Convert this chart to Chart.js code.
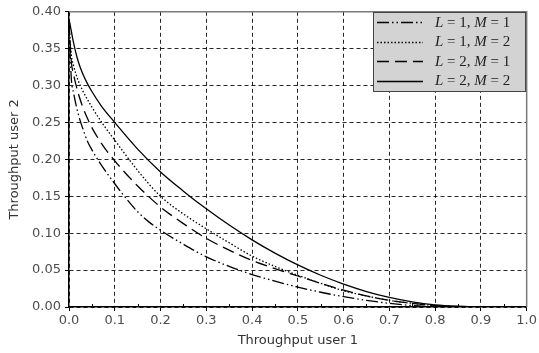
<!DOCTYPE html>
<html>
<head>
<meta charset="utf-8">
<script src="https://cdn.jsdelivr.net/npm/chart.js@4/dist/chart.umd.min.js"></script>
<style>
  html, body { margin: 0; padding: 0; background: #fff; }
</style>
</head>
<body>
<canvas id="throughputChart" width="539" height="353"></canvas>
<script>
// Throughput region curves
const seriesLabels = [
    ['L', '1', 'M', '1'],
    ['L', '1', 'M', '2'],
    ['L', '2', 'M', '1'],
    ['L', '2', 'M', '2']
];

const xL1M1 = [0, 0.005, 0.01, 0.02, 0.03, 0.04, 0.05, 0.07, 0.1, 0.125, 0.15, 0.175, 0.2, 0.25, 0.3, 0.35, 0.4, 0.45, 0.5, 0.55, 0.6, 0.65, 0.7, 0.75, 0.8];
const yL1M1 = [0.385, 0.31, 0.29, 0.262, 0.242, 0.225, 0.213, 0.193, 0.167, 0.147, 0.129, 0.115, 0.104, 0.085, 0.068, 0.055, 0.044, 0.035, 0.027, 0.020, 0.014, 0.009, 0.005, 0.002, 0];

const xL1M2 = [0, 0.005, 0.01, 0.02, 0.03, 0.05, 0.075, 0.1, 0.15, 0.2, 0.25, 0.3, 0.35, 0.4, 0.45, 0.5, 0.55, 0.6, 0.65, 0.7, 0.75, 0.8, 0.85];
const yL1M2 = [0.385, 0.342, 0.327, 0.307, 0.293, 0.271, 0.247, 0.226, 0.185, 0.150, 0.126, 0.106, 0.087, 0.069, 0.055, 0.043, 0.032, 0.022, 0.015, 0.009, 0.005, 0.002, 0];

const xL2M1 = [0, 0.005, 0.01, 0.02, 0.03, 0.04, 0.05, 0.075, 0.1, 0.15, 0.2, 0.25, 0.3, 0.35, 0.4, 0.45, 0.5, 0.55, 0.6, 0.65, 0.7, 0.75, 0.8, 0.85];
const yL2M1 = [0.385, 0.333, 0.315, 0.29, 0.271, 0.256, 0.243, 0.218, 0.198, 0.164, 0.1355, 0.113, 0.093, 0.077, 0.063, 0.052, 0.042, 0.032, 0.023, 0.015, 0.009, 0.005, 0.002, 0];

const xL2M2 = [0, 0.005, 0.01, 0.02, 0.03, 0.04, 0.05, 0.07, 0.1, 0.15, 0.2, 0.25, 0.3, 0.35, 0.4, 0.45, 0.5, 0.55, 0.6, 0.65, 0.7, 0.75, 0.8, 0.85, 0.9];
const yL2M2 = [0.39, 0.374, 0.358, 0.333, 0.316, 0.303, 0.292, 0.273, 0.25, 0.214, 0.183, 0.157, 0.133, 0.111, 0.091, 0.073, 0.057, 0.043, 0.031, 0.021, 0.013, 0.007, 0.003, 0.001, 0];

const dashStyles = [
    [12, 3, 1.5, 3, 1.5, 3],   // dash-dot-dot
    [1.5, 2],                  // dotted
    [12, 6],                   // dashed
    []                         // solid
];

function toPoints(xs, ys) {
    return xs.map((x, i) => ({ x: x, y: ys[i] }));
}

const seriesData = [
    toPoints(xL1M1, yL1M1),
    toPoints(xL1M2, yL1M2),
    toPoints(xL2M1, yL2M1),
    toPoints(xL2M2, yL2M2)
];

// gray frame on top/right + minor ticks on x axis
const framePlugin = {
    id: 'frame',
    afterDatasetsDraw(chart) {
        const { ctx, chartArea: a, scales } = chart;
        ctx.save();
        ctx.strokeStyle = '#7a7a7a';
        ctx.lineWidth = 1.5;
        ctx.beginPath();
        ctx.moveTo(a.left, a.top);
        ctx.lineTo(a.right, a.top);
        ctx.lineTo(a.right, a.bottom);
        ctx.stroke();

        // minor ticks at the half steps
        ctx.strokeStyle = '#000';
        ctx.lineWidth = 1;
        for (let v = 0.05; v < 1; v += 0.1) {
            const px = Math.round(scales.x.getPixelForValue(v)) + 0.5;
            ctx.beginPath();
            ctx.moveTo(px, a.bottom);
            ctx.lineTo(px, a.bottom - 3);
            ctx.stroke();
        }
        ctx.restore();
    }
};

// legend box with italic L and M like the original
const legendPlugin = {
    id: 'mathLegend',
    afterDraw(chart) {
        const ctx = chart.ctx;
        const boxX = 373, boxY = 12, boxW = 152, boxH = 79;
        ctx.save();
        ctx.fillStyle = '#d3d3d3';
        ctx.fillRect(boxX, boxY, boxW, boxH);
        ctx.strokeStyle = '#444';
        ctx.lineWidth = 1;
        ctx.strokeRect(boxX + 0.5, boxY + 0.5, boxW, boxH);

        chart.data.datasets.forEach((ds, i) => {
            const y = boxY + 10 + i * 19.5;
            ctx.strokeStyle = '#000';
            ctx.lineWidth = 1.5;
            ctx.setLineDash(ds.borderDash);
            ctx.beginPath();
            ctx.moveTo(377, Math.round(y) + 0.5);
            ctx.lineTo(423, Math.round(y) + 0.5);
            ctx.stroke();
            ctx.setLineDash([]);

            const parts = seriesLabels[i];
            const pieces = [
                [parts[0], true], [' = ' + parts[1] + ', ', false],
                [parts[2], true], [' = ' + parts[3], false]
            ];
            let tx = 435;
            ctx.fillStyle = '#222';
            ctx.textBaseline = 'middle';
            pieces.forEach(([txt, ital]) => {
                ctx.font = (ital ? 'italic ' : '') + '15px "Liberation Serif", serif';
                ctx.fillText(txt, tx, y + 1);
                tx += ctx.measureText(txt).width;
            });
        });
        ctx.restore();
    }
};

const gridColor = 'rgba(0,0,0,0.85)';
const tickFont = { family: 'DejaVu Sans', size: 13 };

new Chart(document.getElementById('throughputChart').getContext('2d'), {
    type: 'scatter',
    data: {
        datasets: seriesData.map((pts, i) => ({
            label: seriesLabels[i].join(''),
            data: pts,
            showLine: true,
            borderColor: '#000',
            borderWidth: 1.3,
            borderDash: dashStyles[i],
            pointRadius: 0,
            cubicInterpolationMode: 'monotone',
            fill: false
        }))
    },
    options: {
        responsive: false,
        animation: false,
        layout: { padding: { top: 10, right: 12, left: 0, bottom: 0 } },
        plugins: {
            legend: { display: false },
            tooltip: { enabled: false }
        },
        scales: {
            x: {
                type: 'linear',
                min: 0,
                max: 1,
                afterFit: (scale) => { scale.height = 46; },
                ticks: {
                    stepSize: 0.1,
                    color: '#4d4d4d',
                    font: tickFont,
                    padding: 2,
                    maxRotation: 0,
                    callback: (v) => v.toFixed(1)
                },
                grid: { color: gridColor, lineWidth: 1, tickLength: 4, tickColor: '#000' },
                border: { color: '#000', width: 1.5, dash: [4, 3] },
                title: {
                    display: true,
                    text: 'Throughput user 1',
                    color: '#333',
                    font: tickFont,
                    padding: { top: 0, bottom: 5 }
                }
            },
            y: {
                min: 0,
                max: 0.4,
                afterFit: (scale) => { scale.width = 69; },
                ticks: {
                    stepSize: 0.05,
                    color: '#4d4d4d',
                    font: tickFont,
                    padding: 4,
                    callback: (v) => v.toFixed(2)
                },
                grid: { color: gridColor, lineWidth: 1, tickLength: 4, tickColor: '#000' },
                border: { color: '#000', width: 1.5, dash: [4, 3] },
                title: {
                    display: true,
                    text: 'Throughput user 2',
                    color: '#333',
                    font: tickFont,
                    padding: { top: 7, bottom: 0 }
                }
            }
        }
    },
    plugins: [framePlugin, legendPlugin]
});
</script>
</body>
</html>
